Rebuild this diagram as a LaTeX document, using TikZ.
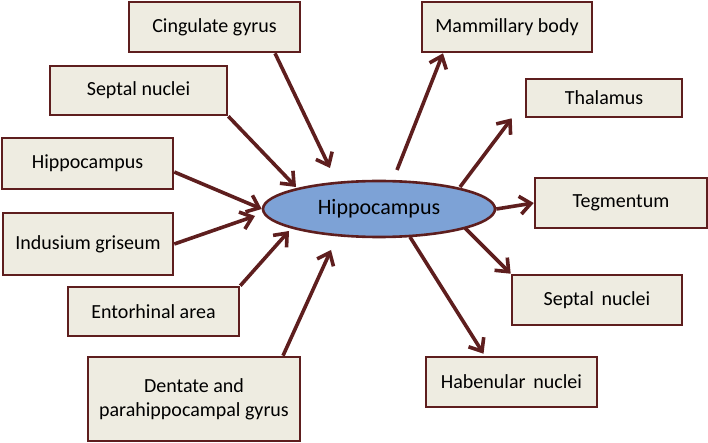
\documentclass[tikz,border=0pt]{standalone}
\usepackage{fontspec}
\setmainfont{Carlito}
\usetikzlibrary{shapes.geometric,arrows.meta,calc}
\definecolor{brd}{HTML}{5E1E1E}
\definecolor{boxbg}{HTML}{EEECE1}
\definecolor{hcblue}{HTML}{7DA2D6}
\begin{document}
\begin{tikzpicture}
[x=1pt,y=-1pt,
box/.style={rectangle,draw=brd,fill=boxbg,line width=2.6pt,
inner sep=0pt,font=\fontsize{20}{24}\selectfont,align=center},
hub/.style={ellipse,draw=brd,fill=hcblue,line width=2.6pt,
inner sep=0pt,minimum width=232,minimum height=56,font=\fontsize{22}{26}\selectfont},
link/.style={draw=brd,line width=3.6pt,-{Straight Barb[length=11pt,width=18pt]}}]
       \useasboundingbox (0,0) rectangle (708,443);
       \node (hc) at (379,209) [hub] {Hippocampus};
       \node (cing) at (214.5,27) [box,minimum width=171,minimum height=50] {Cingulate gyrus};
       \node (septl) at (138.5,90.5) [box,minimum width=177,minimum height=49] {Septal nuclei};
       \node (hipl) at (87.5,163.5) [box,minimum width=171,minimum height=51] {Hippocampus};
       \node (indus) at (88,244) [box,minimum width=170,minimum height=62] {Indusium griseum};
       \node (ento) at (153.5,311.5) [box,minimum width=171,minimum height=49] {Entorhinal area};
       \node (dent) at (194,399) [box,minimum width=212,minimum height=84] {Dentate and\\parahippocampal gyrus};
       \node (mamm) at (507,27) [box,minimum width=170,minimum height=50] {Mammillary body};
       \node (thal) at (604,98) [box,minimum width=156,minimum height=38] {Thalamus};
       \node (teg) at (621,203) [box,minimum width=172,minimum height=50] {Tegmentum};
       \node (septr) at (597,300) [box,minimum width=170,minimum height=50] {Septal\, nuclei};
       \node (habe) at (511.5,382) [box,minimum width=171,minimum height=50] {Habenular\, nuclei};
       \draw[link] ($(cing.south)+(60.5,0)$) -- ($(hc.center)+(-49,-41)$);
       \draw[link] (septl.south east) -- ($(hc.center)+(-83,-22)$);
       \draw[link] ($(hipl.east)+(0,8.5)$) -- (hc.west);
       \draw[link] (indus.east) -- ($(hc.center)+(-124,7)$);
       \draw[link] (ento.north east) -- ($(hc.center)+(-90,22)$);
       \draw[link] ($(dent.north)+(89,0)$) -- ($(hc.center)+(-48,41)$);
       \draw[link] ($(hc.center)+(18,-39)$) -- ($(mamm.south)+(-64,0)$);
       \draw[link] ($(hc.center)+(81,-22)$) -- ($(thal.south west)+(-13,0)$);
       \draw[link] (hc.east) -- (teg.west);
       \draw[link] ($(hc.center)+(86,19)$) -- (septr.north west);
       \draw[link] ($(hc.center)+(31,28)$) -- ($(habe.north)+(-28,-2)$);
    \end{tikzpicture}
\end{document}
